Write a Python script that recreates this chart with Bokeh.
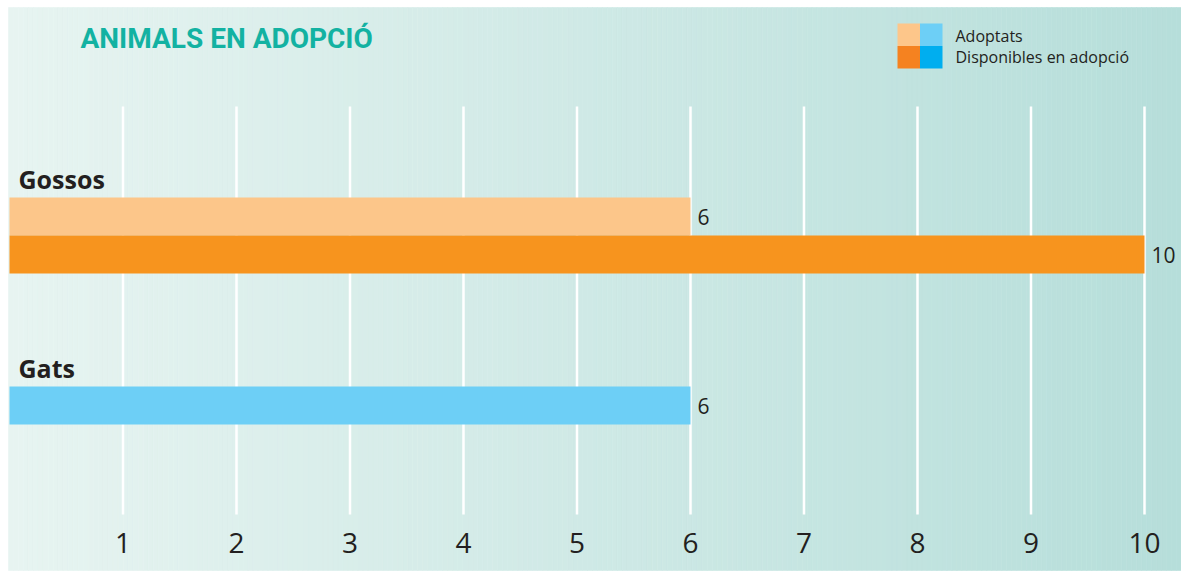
import numpy as np
from bokeh.plotting import figure
from bokeh.models import Range1d
from bokeh.core.properties import value
from bokeh.embed import file_html
from bokeh.resources import INLINE

# ---- data ----
categories = ["Gossos", "Gats"]
adoptats = [6, 6]
disponibles = [10, 0]
ticks = [1, 2, 3, 4, 5, 6, 7, 8, 9, 10]
title_text = "ANIMALS EN ADOPCIÓ"
legend_labels = ["Adoptats", "Disponibles en adopció"]
adopt_colors = ["#fcc68a", "#6dcff6"]
disp_colors = ["#f7941e", "#00aeef"]
legend_adopt = ["#fdc68a", "#6dcff6"]
legend_disp = ["#f58220", "#00aeef"]

# ---- layout helpers (page pixels -> data) ----
W, H = 1181, 571
PX = 113.5          # pixels per unit on x


def X(px):
    return (px - 9) / PX


def BL(y, size):
    # compensate the renderer's baseline offset
    return y - 0.4 * size


TXT = "#231f20"
FONT = value("Open Sans")

p = figure(width=W, height=H,
           x_range=Range1d(X(0), X(W)),
           y_range=Range1d(H, 0),
           output_backend="svg", toolbar_location=None,
           x_axis_location=None, y_axis_location=None,
           min_border=0)
p.grid.visible = False
p.outline_line_color = None
p.background_fill_color = "#ffffff"
p.border_fill_color = "#ffffff"

# ---- background gradient (decoration) ----
BG_L, BG_T, BG_R, BG_B = 8, 7, W, 570
n = 235
edges = np.linspace(BG_L, BG_R, n + 1)
c0 = np.array([231, 244, 241])
c1 = np.array([182, 222, 218])
cols = []
for i in range(n):
    t = i / (n - 1)
    c = (c0 * (1 - t) + c1 * t).round().astype(int)
    cols.append("#%02x%02x%02x" % tuple(c))
p.quad(left=[X(v) for v in edges[:-1]], right=[X(v) for v in edges[1:]],
       top=[BG_T] * n, bottom=[BG_B] * n,
       fill_color=cols, line_color=cols, line_width=0.6)

# ---- grid lines ----
p.segment(x0=ticks, y0=[106] * len(ticks), x1=ticks, y1=[514] * len(ticks),
          line_color="white", line_width=2.5)

# ---- bars ----
GROUP0 = 235
STEP = 189
BAR_H = 38
centers = [GROUP0 + i * STEP for i in range(len(categories))]
p.hbar(y=[c - BAR_H / 2 for c in centers], left=0, right=adoptats,
       height=BAR_H, fill_color=adopt_colors, line_color=None)
p.hbar(y=[c + BAR_H / 2 for c in centers], left=0, right=disponibles,
       height=BAR_H, fill_color=disp_colors, line_color=None)

# ---- value labels ----
VS = 21
vx, vy, vt = [], [], []
for c, a, d in zip(centers, adoptats, disponibles):
    if a:
        vx.append(a + 7 / PX); vy.append(BL(c - BAR_H / 2 + 9, VS)); vt.append(str(a))
    if d:
        vx.append(d + 7 / PX); vy.append(BL(c + BAR_H / 2 + 9, VS)); vt.append(str(d))
p.text(x=vx, y=vy, text=vt, text_font=FONT, text_font_size=f"{VS}px",
       text_color=TXT, text_align="left", text_baseline="alphabetic")

# ---- category labels ----
CS = 25
p.text(x=[X(18)] * len(categories), y=[BL(c - 47, CS) for c in centers], text=categories,
       text_font=FONT, text_font_size=f"{CS}px", text_font_style="bold",
       text_color=TXT, text_align="left", text_baseline="alphabetic")

# ---- tick labels ----
TS = 28
p.text(x=ticks, y=[BL(554, TS)] * len(ticks), text=[str(t) for t in ticks],
       text_font=FONT, text_font_size=f"{TS}px", text_color=TXT,
       text_align="center", text_baseline="alphabetic")

# ---- title ----
HS = 28
p.text(x=[X(80)], y=[BL(49, HS)], text=[title_text], text_font=value("Roboto"),
       text_font_size=f"{HS}px", text_font_style="bold", text_color="#13b2a2",
       text_align="left", text_baseline="alphabetic")

# ---- legend ----
SQ = 22.5
LX, LY = 897, 23
p.quad(left=[X(LX), X(LX + SQ), X(LX), X(LX + SQ)],
       right=[X(LX + SQ), X(LX + 2 * SQ), X(LX + SQ), X(LX + 2 * SQ)],
       top=[LY, LY, LY + SQ, LY + SQ],
       bottom=[LY + SQ, LY + SQ, LY + 2 * SQ, LY + 2 * SQ],
       fill_color=[legend_adopt[0], legend_adopt[1], legend_disp[0], legend_disp[1]],
       line_color=None)
LS = 16
p.text(x=[X(955)] * 2, y=[BL(42, LS), BL(63, LS)], text=legend_labels, text_font=FONT,
       text_font_size=f"{LS}px", text_color=TXT,
       text_align="left", text_baseline="alphabetic")

open("out.html", "w").write(file_html(p, INLINE))
